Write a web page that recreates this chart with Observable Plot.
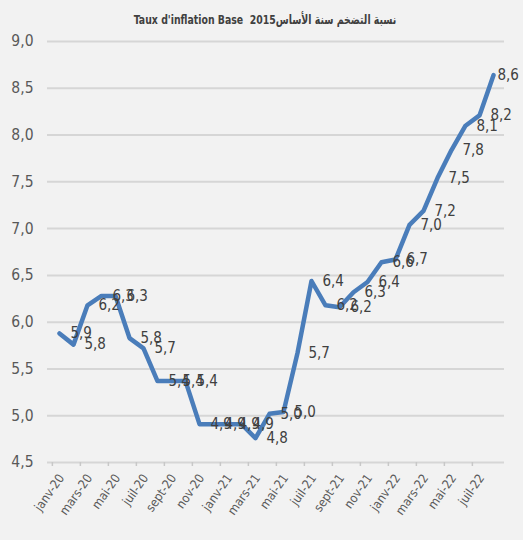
<!DOCTYPE html>
<html>
<head>
<meta charset="utf-8">
<script src="https://cdn.jsdelivr.net/npm/d3@7"></script>
<script src="https://cdn.jsdelivr.net/npm/@observablehq/plot@0.6"></script>
<style>
  html, body { margin: 0; padding: 0; background: #f2f2f2; }
  #wrap { width: 523px; height: 540px; background: #f2f2f2; overflow: hidden; }
  #title { height: 34px; box-sizing: border-box; padding-top: 12px; text-align: center; white-space: nowrap;
    font-family: "Liberation Sans Narrow", "DejaVu Sans Condensed", "Liberation Sans", sans-serif;
    font-stretch: condensed; font-weight: bold; font-size: 13px; color: #404040; line-height: 16px; direction: ltr; }
  #title span { display: inline-block; transform: scaleX(0.8); transform-origin: center; margin-left: 8px; }
</style>
</head>
<body>
<div id="wrap">
  <div id="title"><span>Taux d'inflation Base&nbsp;&nbsp;2015نسبة التضخم سنة الأساس</span></div>
  <div id="chart"></div>
</div>
<script>
const months = [
  "janv-20","févr-20","mars-20","avr-20","mai-20","juin-20","juil-20","août-20","sept-20","oct-20","nov-20","déc-20",
  "janv-21","févr-21","mars-21","avr-21","mai-21","juin-21","juil-21","août-21","sept-21","oct-21","nov-21","déc-21",
  "janv-22","févr-22","mars-22","avr-22","mai-22","juin-22","juil-22","août-22"
];
const values = [
  5.88, 5.76, 6.18, 6.28, 6.28, 5.83, 5.72, 5.37, 5.37, 5.37, 4.91, 4.91,
  4.91, 4.91, 4.76, 5.02, 5.04, 5.67, 6.44, 6.18, 6.16, 6.32, 6.43, 6.64,
  6.67, 7.04, 7.19, 7.54, 7.84, 8.10, 8.21, 8.64
];
const tickLabels = ["janv-20","mars-20","mai-20","juil-20","sept-20","nov-20","janv-21","mars-21","mai-21","juil-21","sept-21","nov-21","janv-22","mars-22","mai-22","juil-22"];
const yTicks = [4.5, 5.0, 5.5, 6.0, 6.5, 7.0, 7.5, 8.0, 8.5, 9.0];

const data = months.map((m, i) => ({month: m, value: values[i]}));
const fmt = v => v.toFixed(1).replace(".", ",");

const W = 523, H = 506, mL = 47, mR = 19;
const step = (W - mL - mR) / months.length;
const font = '"Liberation Sans Narrow", "DejaVu Sans Condensed", "Liberation Sans", sans-serif';

const chart = Plot.plot({
  width: W,
  height: H,
  marginLeft: mL,
  marginRight: mR,
  marginTop: 7,
  marginBottom: 78,
  style: {background: "#f2f2f2", fontFamily: font, fontSize: "15px", fontStretch: "condensed", overflow: "visible"},
  x: {type: "point", domain: months, padding: 0.5, axis: null, label: null},
  y: {domain: [4.5, 9.0], axis: null, label: null},
  marks: [
    Plot.gridY(yTicks, {stroke: "#d6d6d6", strokeOpacity: 1, strokeWidth: 2}),
    Plot.axisX(tickLabels, {tickSize: 4, tickFormat: () => "", dx: -step / 2, stroke: "#c8c8c8", strokeWidth: 1.5, label: null}),
    Plot.axisX(tickLabels, {tickSize: 0, tickPadding: 13, tickRotate: -55, dx: 2, fontSize: 12.5, fill: "#595959", label: null}),
    Plot.axisY(yTicks, {tickSize: 0, tickPadding: 14, tickFormat: fmt, fontSize: 15.5, fill: "#595959", label: null}),
    Plot.line(data, {x: "month", y: "value", stroke: "#4a7dba", strokeWidth: 4.5, strokeLinejoin: "round"}),
    Plot.text(data.slice(0, -1), {x: "month", y: "value", text: d => fmt(d.value), textAnchor: "start", dx: 11, fill: "#404040", fontSize: 15}),
    Plot.text(data.slice(-1), {x: "month", y: "value", text: d => fmt(d.value), textAnchor: "start", dx: 4, fill: "#404040", fontSize: 15})
  ]
});
document.getElementById("chart").appendChild(chart);
</script>
</body>
</html>
